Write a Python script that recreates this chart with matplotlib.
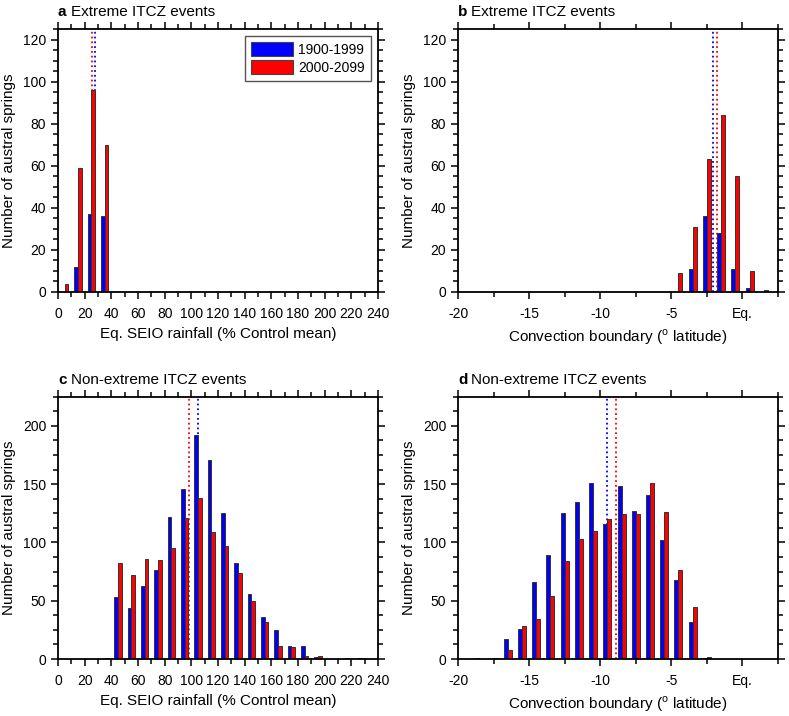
import numpy as np
import matplotlib
matplotlib.use("Agg")
import matplotlib.pyplot as plt
from matplotlib.patches import Patch
from matplotlib.ticker import MultipleLocator, FixedLocator, FixedFormatter

plt.rcParams['font.family'] = ['Liberation Sans', 'DejaVu Sans']
plt.rcParams['mathtext.fontset'] = 'custom'
plt.rcParams['mathtext.rm'] = 'Liberation Sans'
plt.rcParams['axes.unicode_minus'] = False

# panel a: extreme events, rainfall bins (% control mean)
rain_ext_bins = [5, 15, 25, 35]
rain_ext_20c = [0, 12, 37, 36]
rain_ext_21c = [4, 59, 96, 70]
rain_ext_mean_20c = 27.6
rain_ext_mean_21c = 25.6

# panel b: extreme events, convection boundary bins (deg latitude)
lat_ext_bins = [-4.5, -3.5, -2.5, -1.5, -0.5, 0.5, 1.5]
lat_ext_20c = [0, 11, 36, 28, 11, 2, 0]
lat_ext_21c = [9, 31, 63, 84, 55, 10, 1]
lat_ext_mean_20c = -2.05
lat_ext_mean_21c = -1.8

# panel c: non-extreme events, rainfall
rain_non_bins = [35, 45, 55, 65, 75, 85, 95, 105, 115, 125, 135, 145, 155,
                 165, 175, 185, 195, 205, 215, 225]
rain_non_20c = [0, 53, 44, 63, 76, 122, 146, 192, 171, 125, 82, 56, 36,
                25, 11, 11, 2, 0, 0, 0]
rain_non_21c = [1, 82, 72, 86, 85, 95, 121, 138, 109, 97, 74, 50, 32,
                11, 10, 3, 3, 0, 1, 1]
rain_non_mean_20c = 105.0
rain_non_mean_21c = 98.5

# panel d: non-extreme events, convection boundary
lat_non_bins = [-18.5, -17.5, -16.5, -15.5, -14.5, -13.5, -12.5, -11.5, -10.5,
                -9.5, -8.5, -7.5, -6.5, -5.5, -4.5, -3.5, -2.5]
lat_non_20c = [1, 0, 17, 26, 66, 89, 125, 135, 151, 116, 148, 127, 141, 102,
               68, 32, 1]
lat_non_21c = [0, 1, 8, 28, 34, 54, 84, 103, 110, 120, 124, 124, 151, 126,
               76, 45, 2]
lat_non_mean_20c = -9.5
lat_non_mean_21c = -8.9

period_labels = ['1900-1999', '2000-2099']
BLUE = '#0000ff'
RED = '#ff0000'

rain_label = 'Eq. SEIO rainfall (% Control mean)'
lat_label = r'Convection boundary ($^{\mathrm{o}}$ latitude)'


def draw_panel(ax, bins, v20, v21, m20, m21, binw, letter, title):
    bins = np.array(bins, dtype=float)
    w = 0.28 * binw
    ax.axvline(m21, color=RED, ls=':', lw=1.3, zorder=1)
    ax.axvline(m20, color=BLUE, ls=':', lw=1.3, zorder=1)
    ax.bar(bins - w / 2, v20, width=w, color=BLUE, edgecolor='#333333',
           linewidth=0.7, zorder=2)
    ax.bar(bins + w / 2, v21, width=w, color=RED, edgecolor='#333333',
           linewidth=0.7, zorder=2)
    ax.annotate(letter, xy=(0, 1), xycoords='axes fraction',
                xytext=(0, 7), textcoords='offset points',
                fontsize=11, fontweight='bold', va='bottom', ha='left')
    ax.annotate(title, xy=(0, 1), xycoords='axes fraction',
                xytext=(9.5, 7), textcoords='offset points',
                fontsize=11, va='bottom', ha='left')
    ax.set_ylabel('Number of austral springs', fontsize=11, labelpad=5)
    ax.tick_params(which='both', direction='out', top=True, right=True,
                   labelsize=10)
    ax.tick_params(which='major', length=5, width=1.1)
    ax.tick_params(which='minor', length=3.5, width=1.1)
    ax.tick_params(axis='x', pad=6)
    for s in ax.spines.values():
        s.set_linewidth(1.3)


def rain_axis(ax, ymax, ymaj):
    ax.set_xlim(0, 240)
    ax.xaxis.set_major_locator(MultipleLocator(20))
    ax.xaxis.set_minor_locator(MultipleLocator(10))
    ax.set_ylim(0, ymax)
    ax.yaxis.set_major_locator(MultipleLocator(ymaj))
    ax.yaxis.set_minor_locator(MultipleLocator(ymaj / 4))
    ax.set_xlabel(rain_label, fontsize=11, labelpad=4)


def lat_axis(ax, ymax, ymaj):
    ax.set_xlim(-20, 2.5)
    ax.xaxis.set_major_locator(FixedLocator([-20, -15, -10, -5, 0]))
    ax.xaxis.set_major_formatter(FixedFormatter(['-20', '-15', '-10', '-5', 'Eq.']))
    ax.xaxis.set_minor_locator(FixedLocator([-17.5, -12.5, -7.5, -2.5, 2.5]))
    ax.set_ylim(0, ymax)
    ax.yaxis.set_major_locator(MultipleLocator(ymaj))
    ax.yaxis.set_minor_locator(MultipleLocator(ymaj / 4))
    ax.set_xlabel(lat_label, fontsize=11, labelpad=4)


fig = plt.figure(figsize=(7.89, 7.16), dpi=100)
ax_a = fig.add_axes([0.0735, 0.5922, 0.4056, 0.3673])
ax_b = fig.add_axes([0.5805, 0.5922, 0.4056, 0.3673])
ax_c = fig.add_axes([0.0735, 0.0796, 0.4056, 0.3664])
ax_d = fig.add_axes([0.5805, 0.0796, 0.4056, 0.3664])

draw_panel(ax_a, rain_ext_bins, rain_ext_20c, rain_ext_21c,
           rain_ext_mean_20c, rain_ext_mean_21c, 10, 'a', 'Extreme ITCZ events')
rain_axis(ax_a, 125, 20)

draw_panel(ax_b, lat_ext_bins, lat_ext_20c, lat_ext_21c,
           lat_ext_mean_20c, lat_ext_mean_21c, 1, 'b', 'Extreme ITCZ events')
lat_axis(ax_b, 125, 20)

draw_panel(ax_c, rain_non_bins, rain_non_20c, rain_non_21c,
           rain_non_mean_20c, rain_non_mean_21c, 10, 'c', 'Non-extreme ITCZ events')
rain_axis(ax_c, 225, 50)

draw_panel(ax_d, lat_non_bins, lat_non_20c, lat_non_21c,
           lat_non_mean_20c, lat_non_mean_21c, 1, 'd', 'Non-extreme ITCZ events')
lat_axis(ax_d, 225, 50)

handles = [Patch(facecolor=BLUE, edgecolor='#444444', linewidth=0.8),
           Patch(facecolor=RED, edgecolor='#444444', linewidth=0.8)]
leg = ax_a.legend(handles, period_labels, loc='upper right', fontsize=10,
                  fancybox=False, framealpha=1, edgecolor='#555555',
                  handlelength=3.0, handleheight=1.15, handletextpad=0.4,
                  borderaxespad=0.5, borderpad=0.45, labelspacing=0.25)
leg.get_frame().set_linewidth(1.0)

fig.savefig('out.png', dpi=100)
